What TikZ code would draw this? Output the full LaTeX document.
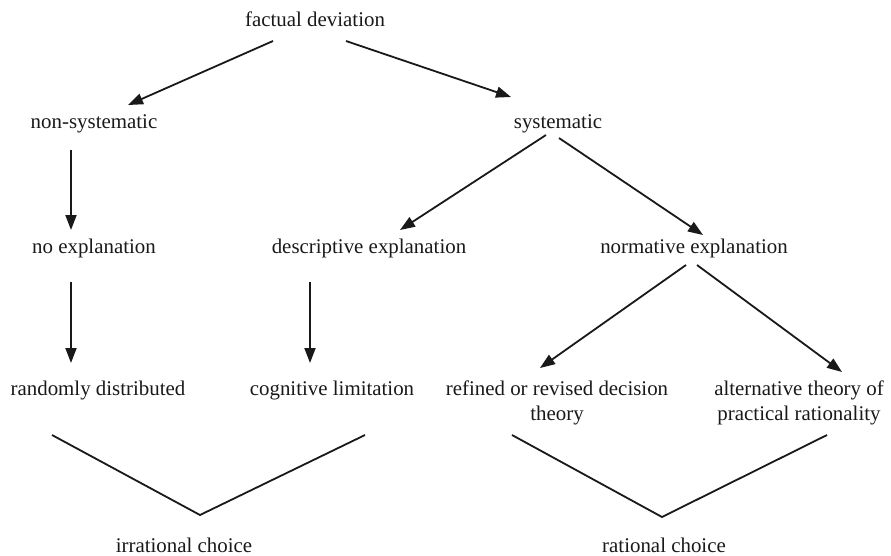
\documentclass[tikz,border=0pt]{standalone}
\usepackage{fontspec}
\setmainfont{Liberation Serif}
\usetikzlibrary{arrows.meta}
\begin{document}
\begin{tikzpicture}[x=1pt,y=-1pt,
  lbl/.style={inner sep=0pt,anchor=base,align=center,font=\fontsize{20.9}{25}\selectfont,text=black!90},
  arr/.style={line width=1.8pt,draw=black!90,-{Triangle[length=15pt,width=11pt]}},
  vee/.style={line width=1.8pt,draw=black!90}]
\useasboundingbox (0,0) rectangle (891,555);
\node[lbl] (fd) at (315,26) {factual deviation};
\node[lbl] (ns) at (94,128) {non-systematic};
\node[lbl] (sy) at (558,128) {systematic};
\node[lbl] (ne) at (94,253) {no explanation};
\node[lbl] (de) at (369,253) {descriptive explanation};
\node[lbl] (nr) at (694,253) {normative explanation};
\node[lbl] (rd) at (98,395) {randomly distributed};
\node[lbl] (cl) at (332,395) {cognitive limitation};
\node[lbl] (rf) at (557,420) {refined or revised decision\\theory};
\node[lbl] (at) at (799,420) {alternative theory of\\practical rationality};
\node[lbl] (ic) at (184,552) {irrational choice};
\node[lbl] (rc) at (664,552) {rational choice};
\draw[arr] ([shift={(-42,15)}]fd.base) -- ([shift={(34,-23)}]ns.base);
\draw[arr] ([shift={(31,15)}]fd.base) -- ([shift={(-47,-31)}]sy.base);
\draw[arr] ([shift={(-23,22)}]ns.base) -- ([shift={(-23,-23)}]ne.base);
\draw[arr] ([shift={(-12,7)}]sy.base) -- ([shift={(31,-23)}]de.base);
\draw[arr] ([shift={(1,10)}]sy.base) -- ([shift={(9,-18)}]nr.base);
\draw[arr] ([shift={(-23,29)}]ne.base) -- ([shift={(-27,-32)}]rd.base);
\draw[arr] ([shift={(-59,29)}]de.base) -- ([shift={(-22,-32)}]cl.base);
\draw[arr] ([shift={(-8,12)}]nr.base) -- ([shift={(-17,-52)}]rf.base);
\draw[arr] ([shift={(3,12)}]nr.base) -- ([shift={(43,-48)}]at.base);
\draw[vee] ([shift={(-46,40)}]rd.base) -- ([shift={(16,-37)}]ic.base) -- ([shift={(33,40)}]cl.base);
\draw[vee] ([shift={(-45,15)}]rf.base) -- ([shift={(-2,-35)}]rc.base) -- ([shift={(28,15)}]at.base);
\end{tikzpicture}
\end{document}
